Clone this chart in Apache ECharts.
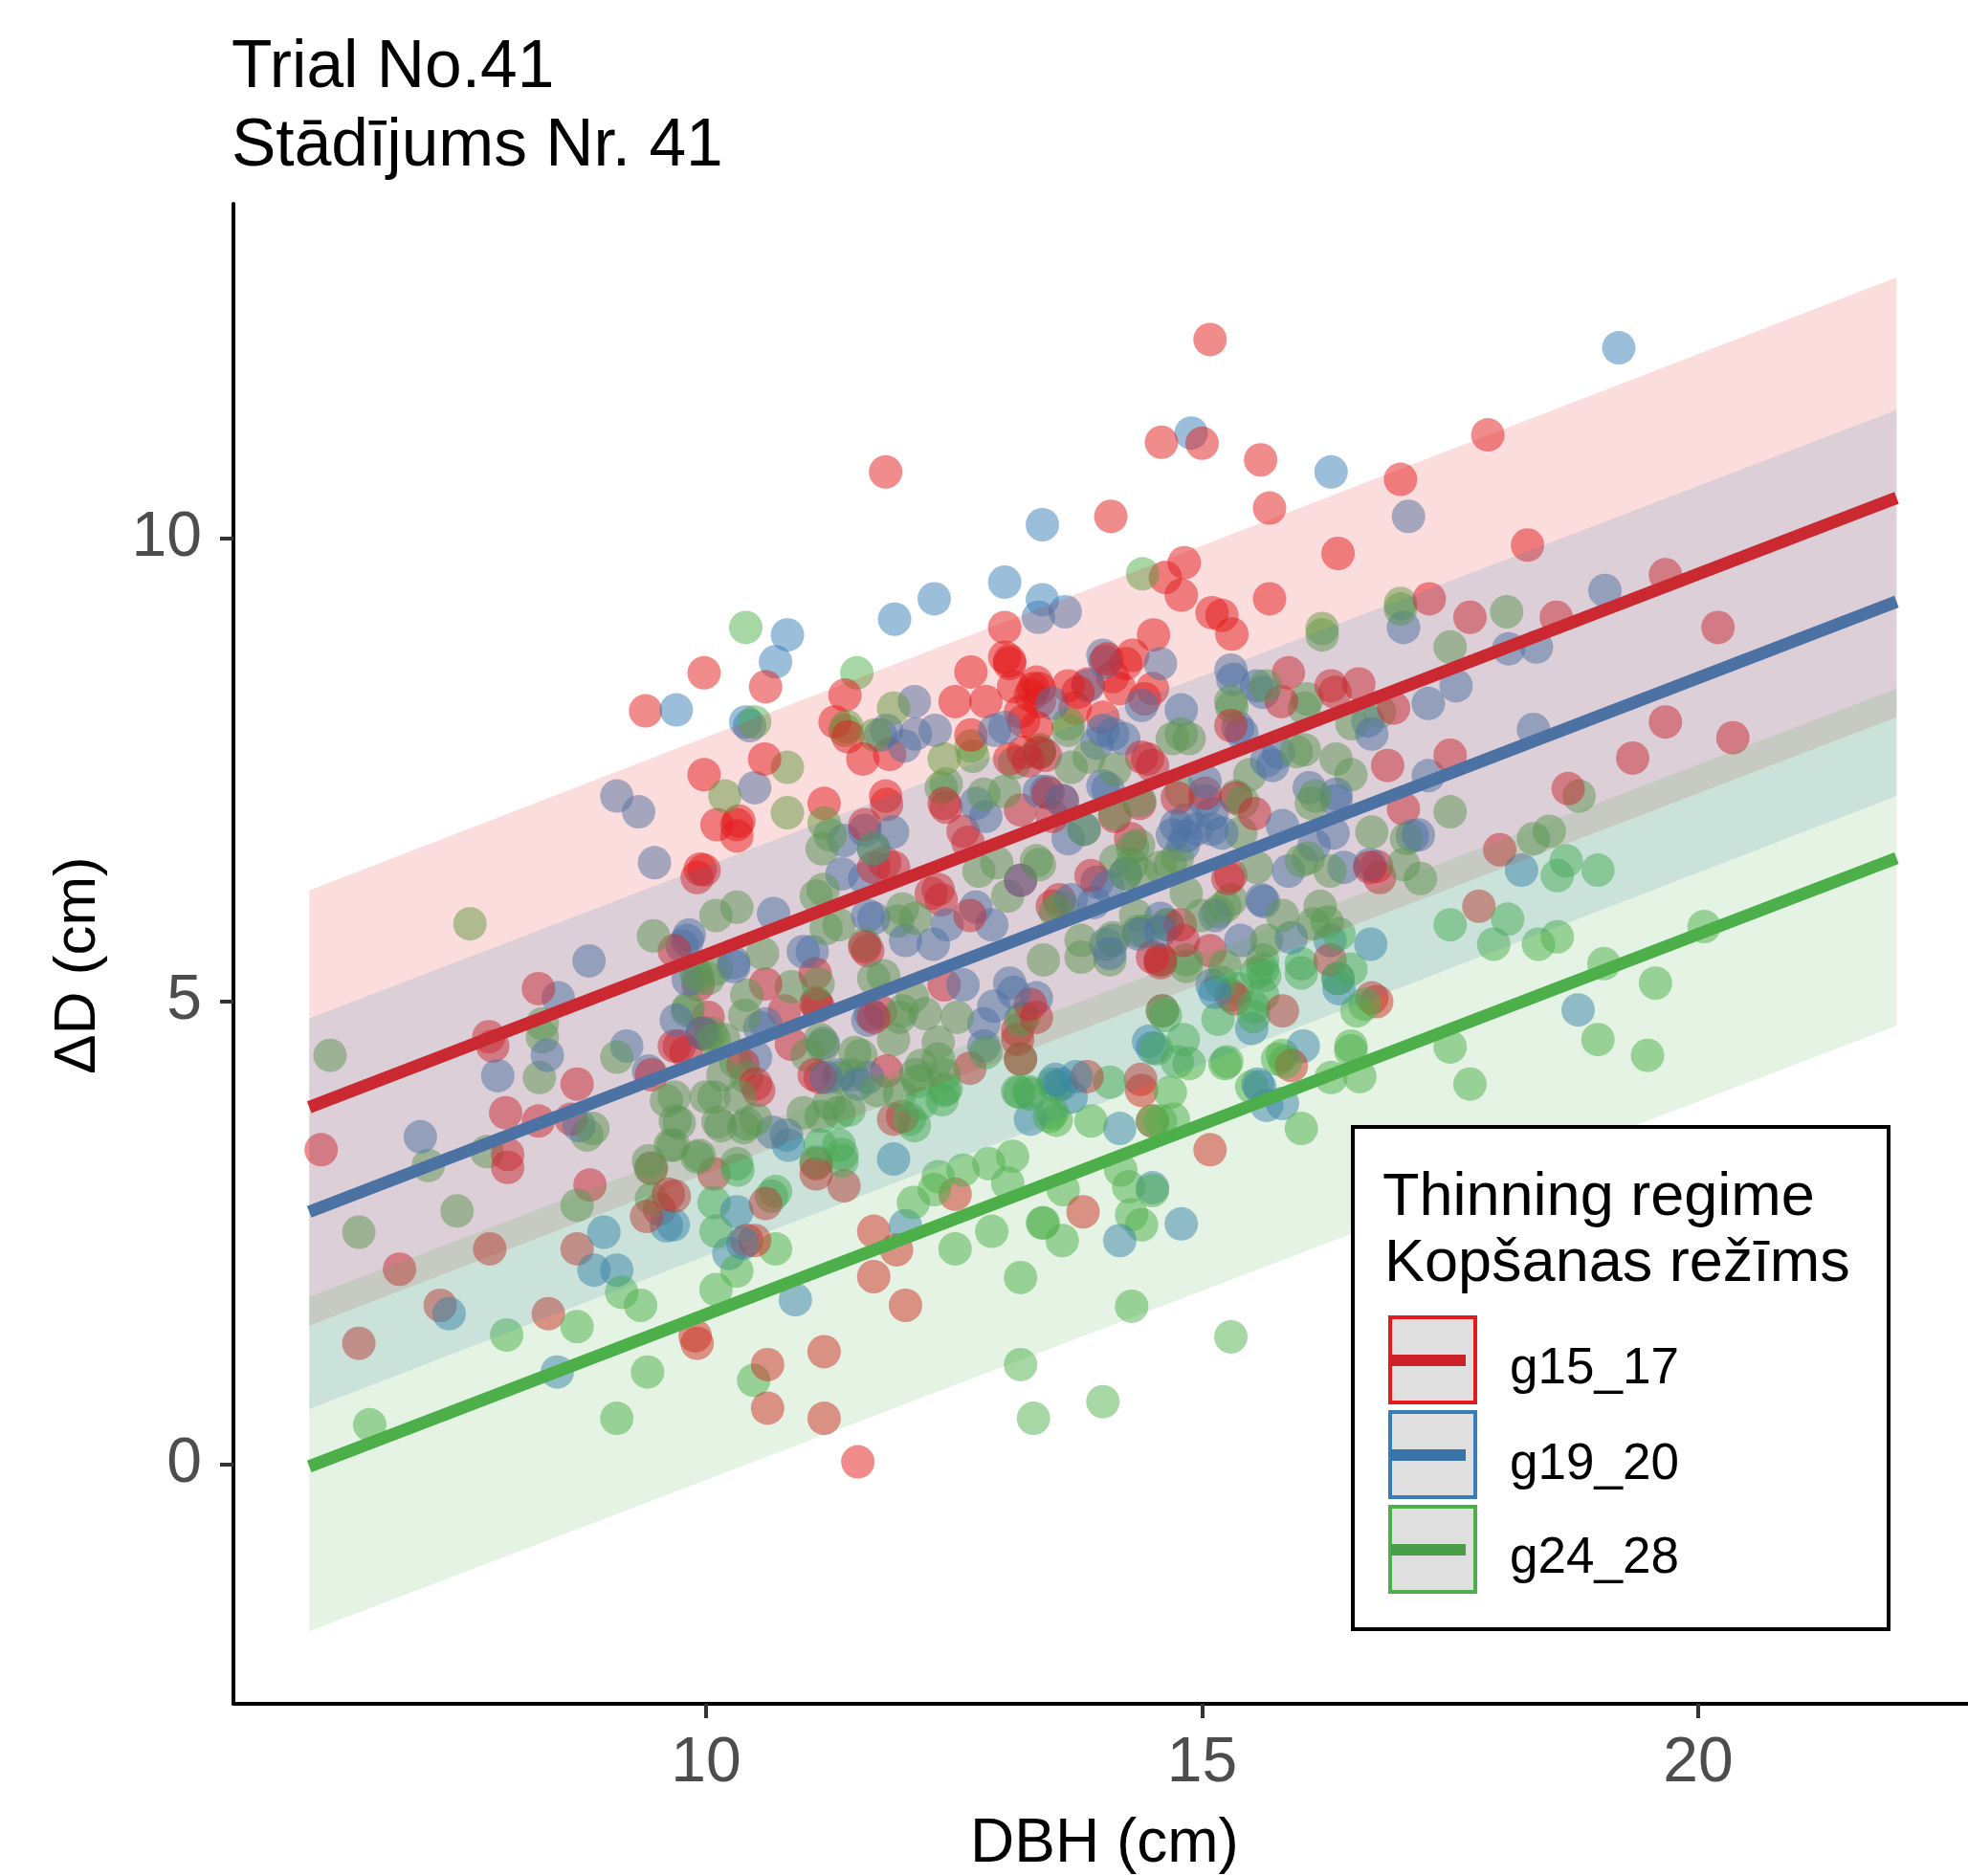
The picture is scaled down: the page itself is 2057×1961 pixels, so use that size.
<!DOCTYPE html>
<html>
<head>
<meta charset="utf-8">
<style>html,body{margin:0;padding:0;background:#fff}#c{width:2057px;height:1961px}</style>
<script src="https://cdn.jsdelivr.net/npm/echarts@6/dist/echarts.min.js"></script>
</head>
<body>
<div id="c"></div>
<script>
const groupNames = ['g15_17', 'g19_20', 'g24_28'];
const titleLines = ['Trial No.41', 'Stādījums Nr. 41'];
const legendTitle = ['Thinning regime', 'Kopšanas režīms'];
const xTicks = [10, 15, 20];
const yTicks = [0, 5, 10];

const redPoints = [[15.08,12.15],[11.81,10.72],[17.88,11.12],[14.59,11.04],[15.0,11.03],[15.59,10.85],[17.0,10.64],[15.68,10.33],[14.08,10.24],[16.37,9.84],[18.28,9.93],[14.82,9.74],[14.63,9.58],[15.68,9.35],[17.29,9.35],[19.67,9.61],[17.7,9.15],[20.2,9.04],[15.1,9.2],[15.3,8.97],[14.51,8.96],[18.57,9.15],[14.79,9.39],
[9.98,8.55],[10.6,8.4],[9.39,8.14],[11.4,8.31],[11.3,8.02],[11.43,7.86],[11.58,7.62],[11.85,7.67],[12.51,8.24],[12.82,8.24],[12.67,8.56],[13.01,9.04],[13.06,8.65],[13.06,8.68],[13.01,8.72],[12.67,7.88],[10.59,7.62],[9.98,7.45],[11.19,7.14],[11.81,7.22],[11.82,7.13],[10.11,6.91],[10.31,6.91],[10.33,6.95],[10.31,6.79],[11.6,6.91],[9.94,6.43],[9.91,6.34],[9.98,6.42],[12.59,6.84],[12.64,6.72],[12.4,7.14],[12.42,7.1],[13.17,7.07],[13.06,7.62],[13.2,7.69],[13.25,7.6],[13.17,8.13],[13.27,8.31],[13.33,8.45],[13.2,8.03],[13.33,7.96],[13.1,8.4],
[11.89,6.45],[11.69,6.45],[11.8,6.5],[12.66,5.93],[12.37,6.1],[12.27,6.17],[12.34,6.21],[13.17,6.31],[11.6,5.59],[11.63,5.55],
[15.2,9.17],[14.3,8.74],[14.23,8.65],[14.04,8.7],[15.87,8.55],[16.3,8.41],[16.58,8.43],[16.34,8.34],[15.8,8.24],[14.5,8.38],[14.42,8.27],[14.17,8.38],[13.65,8.41],[13.75,8.34],[13.85,8.43],[14.1,8.51],[13.3,8.38],[13.36,8.38],[15.29,7.98],[14,8.07],[13.72,8.17],[13.36,8.24],[14.39,7.64],[14.5,7.55],[14.45,7.62],[13.36,7.69],[13.42,7.66],[16.87,7.55],[16.93,8.17],[17.03,7.08],[15.34,7.2],[15.53,7.03],[14.75,7.2],[15.03,7.25],[14.37,7.14],[14.12,7.0],[13.59,7.17],[13.49,7.0],[13.45,7.25],[14.28,6.76],[13.88,6.36],[15.29,6.36],[15.26,6.33],[16.69,6.45],[16.79,6.34],[13.56,6.1],[13.49,6.03],[14.78,5.83],[14.81,5.66],[15.08,5.55],[16.29,5.45],[14.58,5.45],[14.5,5.48],[14.58,5.42],
[9.92,5.18],[10.6,5.19],[11.1,5.3],[11.11,4.97],[11.13,4.95],[10.79,4.9],[10.02,4.83],[9.96,4.66],[9.73,4.52],[9.8,4.45],[10.86,4.54],[10.37,4.32],[10.5,4.11],[10.53,4.04],[11.69,4.83],[11.76,4.89],[12.4,5.18],[11.82,4.25],[11.15,4.18],[11.09,4.21],[12.66,4.28],[11.89,3.73],[11.98,3.76],[13.27,4.97],[13.33,4.83],[13.14,4.69],[13.14,4.59],[13.17,4.38],[11.11,3.25],[11.11,3.14],[10.08,3.14],[11.39,3.01],[12.51,2.92],[9.68,2.9],[10.6,2.82],[11.69,2.52],[11.92,2.32],[10.41,2.42],[10.49,2.42],[11.69,2.03],[12.01,1.72],[9.89,1.39],
[16.71,5.04],[16.76,5.0],[15.81,4.9],[15.29,5.07],[15.33,5.03],[14.6,4.9],[15.9,4.31],[13.84,4.19],[14.38,4.16],[14.39,4.04],[14.5,3.71],[15.08,3.4],[13.8,2.73],
[19.67,8.02],[20.35,7.85],[19.34,7.63],[17.5,7.66],[18.69,7.3],[16.76,6.46],[18,6.64],[17.79,6.03],
[8.31,5.14],[9.68,5.55],[7.81,4.62],[7.85,4.52],[8.7,4.11],[9.45,4.21],[7.98,3.8],[8.31,3.71],[8.64,3.73],[6.12,3.4],[8,3.35],[8,3.21],[8.83,3.02],[7.82,2.33],[8.7,2.33],[9.62,2.92],[9.4,2.68],[9.53,2.76],[9.45,3.2],[9.68,4.52],[6.91,2.11],[7.32,1.72],[8.41,1.63],[6.5,1.31],[9.91,1.31],[10.62,1.08],[10.62,0.61],[11.19,1.22],[11.19,0.5],[11.53,0.03]];

const bluePoints = [[19.2,12.06],[16.3,10.72],[14.89,11.14],[13.39,10.15],[17.08,10.24],[13.01,9.53],[12.3,9.35],[11.9,9.13],[13.39,9.34],[13.35,9.15],[13.62,9.21],[19.06,9.44],[17.03,9.04],[18.09,8.81],[18.37,8.83],[17.56,8.41],[17.28,8.22],[18.34,7.94],[17.28,7.44],[17.18,6.8],[18.22,6.42],[18.79,4.91],[16.7,5.62],
[10.82,8.96],[10.7,8.67],[9.7,8.15],[10.4,8.02],[10.44,7.98],[11.82,7.93],[11.76,7.88],[12.1,8.24],[12.31,7.93],[12.11,7.89],[12.0,7.76],[12.91,7.93],[13.01,7.96],[10.49,7.31],[11.6,6.85],[11.39,6.74],[11.88,6.83],[11.69,6.65],[11.6,6.33],[11.37,6.38],[12.72,7.14],[12.82,7.0],[13.17,6.31],[10.68,5.95],[9.83,5.72],[9.81,5.66],[9.76,5.6],[10.98,5.54],[11.07,5.54],[11.69,5.9],[11.63,5.93],[12.01,5.66],[12.29,5.62],[12.43,5.83],[12.88,5.83],[12.72,6.02],[10.28,5.38],[9.1,7.22],[9.32,7.05],[9.48,6.5],
[14.0,8.74],[14.02,8.67],[14.58,8.65],[15.29,8.58],[15.31,8.48],[15.55,8.41],[15.61,8.34],[14.39,8.2],[14.79,8.15],[13.85,8.41],[15.36,7.96],[15.4,7.9],[14,7.93],[14.1,7.89],[14.21,7.84],[13.94,7.79],[13.49,8.22],[14.0,7.33],[14.05,7.3],[15.77,7.69],[15.71,7.55],[15.65,7.6],[16.71,7.89],[16.67,8.03],[16.08,7.31],[16.35,7.17],[16.35,7.24],[15.03,7.38],[15.03,7.17],[15.1,7.03],[14.84,6.96],[14.74,6.9],[14.84,6.79],[14.94,6.86],[14.81,6.69],[14.7,6.8],[15.1,6.86],[15.2,6.82],[13.81,6.86],[13.65,6.76],[13.36,7.27],[13.43,7.27],[13.59,7.17],[13.94,6.29],[14.05,6.24],[14.23,6.38],[15.87,6.41],[16.13,6.69],[16.43,6.45],[16.69,6.48],[17.12,6.79],[16.32,6.82],[15.81,6.9],[15.6,6.1],[15.62,6.08],[15.13,5.93],[15.39,5.66],[15.9,5.69],[16.29,5.66],[14.65,5.83],[14.58,5.9],[14.58,5.76],[13.68,6.1],[13.91,6.07],[14.1,5.66],[14.03,5.62],[14.36,5.73],[14.07,5.52],
[10.28,5.42],[10.6,4.76],[10.54,4.72],[9.7,4.8],[9.96,4.66],[10.5,4.4],[11.18,4.55],[11.63,4.8],[11.66,4.86],[12.59,5.18],[12.8,4.76],[12.8,4.52],[11.63,4.18],[11.53,4.11],[11.21,4.18],[11.34,4.21],[13.33,5.04],[13.27,3.73],[10.81,3.56],[10.83,3.45],[11.89,3.3],[10.31,2.73],[9.67,2.59],[12.01,2.58],[10.37,2.39],[10.23,2.28],[10.9,1.78],[13.06,5.2],[13.1,5.1],[12.9,4.95],
[16.37,5.25],[16.38,5.14],[15.5,4.71],[15.1,5.18],[15.13,5.1],[14.5,4.5],[14.46,4.57],[16.02,4.52],[15.56,4.11],[15.58,4.08],[15.81,3.9],[15.65,3.88],[13.58,4.11],[13.52,4.16],[13.73,4.19],[13.68,3.97],[14.17,3.63],[14.5,2.99],[14.17,2.42],[14.79,2.6],
[8.51,5.04],[8.82,5.44],[9.82,5.24],[8.4,4.42],[7.9,4.2],[9.2,4.52],[9.42,4.25],[8.72,3.66],[7.12,3.54],[8.97,2.51],[9.6,2.58],[10.67,3.59],[8.87,2.1],[9.1,2.1],[7.41,1.63],[8.5,1.0]];

const greenPoints = [[10.4,9.04],[10.49,8.02],[11.52,8.55],[11.4,7.93],[11.42,7.97],[11.7,7.88],[11.89,8.17],[12.4,7.62],[12.69,7.65],[14.4,9.62],[10.82,7.53],[10.19,7.22],[10.82,7.04],[11.19,6.93],[11.17,6.65],[11.25,6.8],[11.69,6.65],[12.67,7.76],[12.37,7.31],[12.42,7.35],[13.01,7.27],[12.8,7.24],[13.11,7.58],[13.36,7.72],[13.33,6.52],[12.75,6.41],[12.93,6.5],[13.04,6.14],[11.18,6.21],[11.11,6.14],[10.31,6.02],[10.1,5.93],[11.21,5.79],[11.34,5.83],[11.6,5.62],[11.98,6.0],[12.11,5.9],[11.93,5.87],[10.57,5.52],[10.1,5.35],
[16.21,8.96],[16.21,9.03],[17,9.3],[17,9.24],[15.29,8.24],[15.3,8.18],[15.64,8.41],[16.06,8.27],[16.03,8.17],[13.65,8.0],[13.65,7.93],[14.7,7.84],[14.87,7.84],[14.79,7.89],[13.86,7.64],[13.68,7.53],[14.12,7.51],[13.36,7.69],[16.35,7.62],[16.5,7.45],[16.03,7.72],[15.95,7.7],[15.48,7.45],[16.51,8.0],[16.79,8.13],[16.1,7.14],[16.14,7.22],[15.34,7.22],[15.41,7.16],[14.79,7.27],[14.37,7.17],[14.12,7.03],[15.39,6.82],[13.81,6.86],[14.36,6.69],[14.3,6.66],[13.36,6.48],[14.13,6.52],[14.29,6.48],[14.23,6.38],[14.39,6.38],[14.68,6.48],[14.58,6.45],[14.75,6.55],[15.55,6.45],[16,6.52],[16.07,6.55],[16.29,6.41],[16.71,6.83],[17.06,6.76],[17.03,6.48],[14.84,6.17],[15.29,6.1],[15.16,5.97],[15.23,6.03],[14.99,5.93],[15.81,5.93],[16.19,6.03],[16.26,5.86],[16.12,5.84],[15.65,5.66],[16.38,5.73],[16,5.41],[16.5,5.35],[14.65,5.83],[13.59,6.03],[13.52,5.97],[14.33,5.93],[14.36,5.76],[14.42,5.76],[14.1,5.69],[13.78,5.66],[13.78,5.48],[14.58,5.45],[14.84,5.45],[14.84,5.38],[15.23,5.38],[15.61,5.45],[15.55,5.31],[13.4,5.45],[14.07,5.45],
[10.02,5.25],[9.92,5.25],[10.41,5.07],[9.81,4.9],[10.39,4.85],[11.13,5.19],[10.86,5.16],[11.11,4.99],[10.05,4.66],[10.18,4.59],[10.08,4.59],[10.3,4.35],[10.41,4.18],[10.17,4.21],[10.34,3.97],[10.08,3.97],[9.68,3.97],[10.15,3.66],[9.73,3.69],[10.41,3.68],[10.5,3.73],[9.67,3.45],[10.98,3.8],[11.16,3.76],[11.34,3.8],[11.44,3.83],[11.24,3.9],[11.18,4.52],[11.15,4.59],[11.02,4.42],[11.5,4.45],[11.56,4.42],[11.89,4.59],[11.98,4.9],[11.95,4.83],[12.21,4.87],[12.53,4.83],[12.82,4.45],[12.34,4.56],[11.79,5.28],[11.69,5.25],[12.08,5.05],[12.17,4.31],[12.34,4.38],[12.11,4.21],[12.4,4.21],[12.14,4.14],[11.34,4.18],[11.47,4.21],[11.72,4.04],[11.95,4.0],[12.4,4.04],[12.42,4.06],[12.38,3.94],[12.17,3.9],[12.05,3.73],[12.1,3.66],[13.17,4.38],[13.16,4.02],[13.14,4.03],[13.25,4.03],[13.2,4.83],[13.17,4.8],[13.27,4.0],[13.46,3.76],[11.15,3.45],[11.37,3.35],[11.34,3.45],[11.37,3.28],[11.11,3.27],[9.91,3.32],[9.93,3.34],[10.31,3.25],[10.32,3.18],[12.34,3.11],[12.59,3.18],[12.85,3.25],[13.09,3.33],[13.04,3.04],[12.3,2.97],[12.09,2.83],[10.08,2.83],[10.66,2.9],[10.7,2.95],[10.1,2.52],[12.88,2.52],[12.51,2.33],[13.4,2.61],[10.7,2.33],[10.31,2.09],[10.1,1.89],[13.17,2.02],
[16,5.31],[16.37,5.25],[16.64,4.97],[16.56,4.9],[15.61,5.35],[15.63,5.28],[15.16,4.81],[15.52,4.94],[15.52,4.84],[15.36,5.14],[15.19,5.21],[15.61,5.07],[14.6,4.9],[14.63,4.85],[14.81,4.59],[14.54,4.49],[14.75,4.35],[14.87,4.33],[15.23,4.33],[15.25,4.35],[15.81,4.42],[15.76,4.38],[15.84,4.35],[16.5,4.47],[16.5,4.52],[16.3,4.18],[16.59,4.19],[15.5,4.08],[16,3.63],[13.49,4.11],[13.53,4.08],[14.07,4.13],[14.68,4.02],[13.49,3.8],[13.53,3.72],[13.88,3.71],[14.5,3.71],[14.58,3.71],[14.71,3.73],[14.18,3.18],[14.26,3.0],[14.5,2.96],[13.6,2.97],[13.39,2.61],[13.59,2.42],[14.29,2.7],[14.39,2.59],[14.29,1.71],[15.29,1.38],
[18.07,9.21],[17.5,8.83],[18.8,7.22],[17.5,7.05],[17.2,6.33],[18.34,6.76],[18.5,6.84],[18.67,6.52],[18.58,6.36],[18.99,6.42],[17.5,5.83],[17.94,5.62],[18.08,5.89],[18.39,5.62],[18.58,5.7],[20.06,5.81],[19.05,5.41],[19.57,5.2],[18.99,4.59],[19.49,4.42],[17.5,4.51],[17.7,4.11],
[7.62,5.84],[6.21,4.42],[9.47,5.71],[8.35,4.76],[8.35,4.62],[8.32,4.18],[9.1,4.4],[8.86,3.63],[8.8,3.56],[7.2,3.23],[7.79,3.38],[8.7,2.8],[7.49,2.74],[6.5,2.51],[9.45,2.87],[9.42,3.28],[9.44,3.2],[9.6,3.93],[9.69,3.71],[10,3.97],[10.38,3.64],[10.12,3.7],[9.64,3.45],[10,4.64],[9.82,4.93],[9.9,5.3],
[9.34,1.72],[9.15,1.86],[8.7,1.49],[7.99,1.4],[9.41,1.0],[6.61,0.43],[9.1,0.5],[10.48,0.91],[13.17,1.08],[13.3,0.5],[14,0.68]];

const fitX = [6, 22];
const redFit = [3.86, 10.44];
const blueFit = [2.73, 9.32];
const greenFit = [-0.02, 6.55];
const redUpper = [6.2, 12.82];
const redLower = [1.5, 8.07];
const blueUpper = [4.82, 11.39];
const blueLower = [0.6, 7.22];
const greenUpper = [1.81, 8.38];
const greenLower = [-1.8, 4.74];

const RED = '#E41A1C', BLUE = '#377EB8', GREEN = '#4DAF4A';
const FONT = '"Liberation Sans", Arial, sans-serif';
const DRAW_PASSES = 5;

function scatter(name, pts, color) {
  return { name, type: 'scatter', data: pts, symbol: 'circle', symbolSize: 35, z: 2, silent: true,
    itemStyle: { color, opacity: 0.5, borderWidth: 0 }, animation: false };
}
function fit(name, ys, color) {
  return { name, type: 'line', data: fitX.map((x, i) => [x, ys[i]]), showSymbol: false, z: 3, silent: true,
    lineStyle: { color, width: 13, cap: 'butt' }, animation: false };
}
function ribbon(name, lower, upper, color) {
  return { name, type: 'custom', z: 4, silent: true, animation: false, clip: true,
    data: [[fitX[0], lower[0], upper[0], fitX[1], lower[1], upper[1]]],
    encode: { x: [0, 3], y: [1, 2, 4, 5] },
    renderItem(params, api) {
      const a = api.coord([api.value(0), api.value(1)]);
      const b = api.coord([api.value(0), api.value(2)]);
      const c = api.coord([api.value(3), api.value(5)]);
      const d = api.coord([api.value(3), api.value(4)]);
      return { type: 'polygon', shape: { points: [a, b, c, d] },
        style: { fill: color, opacity: 0.15, stroke: null } };
    } };
}

// the three groups overlap in mixed order in the reference: draw them in interleaved passes
const pointSeries = [];
for (let k = 0; k < DRAW_PASSES; k++) {
  [[redPoints, RED], [bluePoints, BLUE], [greenPoints, GREEN]].forEach(([pts, col], g) => {
    const order = [(k + g) % DRAW_PASSES];
    pointSeries.push(scatter(groupNames[g], pts.filter((_, i) => i % DRAW_PASSES === order[0]), col));
  });
}

const legendX = 1451, legendW = 93, legendH = 93;
const legendRows = [
  { top: 1375, border: RED, line: '#CB2027', base: 1448 },
  { top: 1474, border: BLUE, line: '#3874A8', base: 1548 },
  { top: 1573, border: GREEN, line: '#4A9E4A', base: 1646 }
];
const graphics = [
  { type: 'rect', z: 10, shape: { x: 1414, y: 1178, width: 560, height: 525 },
    style: { fill: '#fff', stroke: '#000', lineWidth: 4 } },
  { type: 'text', z: 11, x: 1445, y: 1221, style: { text: legendTitle[0], fill: '#000', font: '63px ' + FONT, verticalAlign: 'top' } },
  { type: 'text', z: 11, x: 1447, y: 1290, style: { text: legendTitle[1], fill: '#000', font: '63px ' + FONT, verticalAlign: 'top' } }
];
legendRows.forEach((r, i) => {
  graphics.push({ type: 'rect', z: 11, shape: { x: legendX + 2, y: r.top + 2, width: legendW - 4, height: legendH - 4 },
    style: { fill: '#DFDFDF', stroke: r.border, lineWidth: 4 } });
  graphics.push({ type: 'rect', z: 12, shape: { x: legendX + 3, y: r.top + 41, width: 78, height: 12 },
    style: { fill: r.line } });
  graphics.push({ type: 'text', z: 12, x: 1578, y: r.base - 43,
    style: { text: groupNames[i], fill: '#000', font: '53px ' + FONT, verticalAlign: 'top' } });
});

const chart = echarts.init(document.getElementById('c'), null, { renderer: 'canvas' });
chart.setOption({
  animation: false,
  backgroundColor: '#fff',
  title: { text: titleLines.join('\n'), left: 242, top: 31, padding: 0,
    textStyle: { fontFamily: FONT, fontSize: 69.5, fontWeight: 'normal', color: '#000', lineHeight: 82 } },
  grid: { left: 244, right: 0, top: 213, bottom: 180, containLabel: false, outerBoundsMode: 'none' },
  xAxis: { type: 'value', min: 5.236, max: 22.72, splitLine: { show: false },
    name: 'DBH (cm)', nameLocation: 'middle', nameGap: 115,
    nameTextStyle: { fontFamily: FONT, fontSize: 64, color: '#000', padding: [0, 0, 0, 8] },
    axisLine: { onZero: false, lineStyle: { color: '#000', width: 4 } },
    axisTick: { show: true, customValues: xTicks, length: 15, lineStyle: { color: '#333', width: 4 } },
    axisLabel: { customValues: xTicks, fontFamily: FONT, fontSize: 66, color: '#4D4D4D', margin: 30, showMinLabel: true, showMaxLabel: true } },
  yAxis: { type: 'value', min: -2.583, max: 13.616, splitLine: { show: false },
    name: 'ΔD (cm)', nameLocation: 'middle', nameGap: 131, nameRotate: 90,
    nameTextStyle: { fontFamily: FONT, fontSize: 62, color: '#000', padding: [0, 24, 0, 0] },
    axisLine: { onZero: false, lineStyle: { color: '#000', width: 4 } },
    axisTick: { show: true, customValues: yTicks, length: 14, lineStyle: { color: '#333', width: 4 } },
    axisLabel: { customValues: yTicks, fontFamily: FONT, fontSize: 66, color: '#4D4D4D', margin: 33, showMinLabel: true, showMaxLabel: true } },
  graphic: graphics,
  series: pointSeries.concat([
    fit(groupNames[0], redFit, RED),
    fit(groupNames[1], blueFit, BLUE),
    fit(groupNames[2], greenFit, GREEN),
    ribbon(groupNames[0], redLower, redUpper, RED),
    ribbon(groupNames[1], blueLower, blueUpper, BLUE),
    ribbon(groupNames[2], greenLower, greenUpper, GREEN)
  ])
});
</script>
</body>
</html>
